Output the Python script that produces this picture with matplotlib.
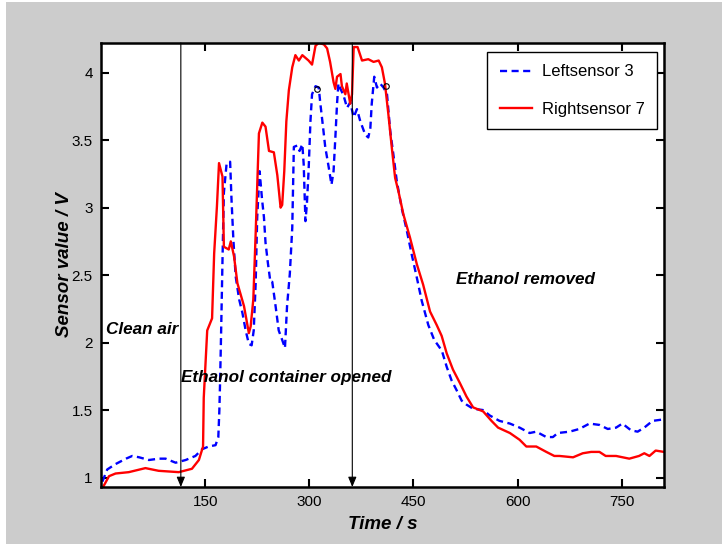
import numpy as np
import matplotlib
matplotlib.use('Agg')
import matplotlib.pyplot as plt
from matplotlib.patches import Rectangle

plt.rcParams['font.family'] = ['Liberation Sans', 'DejaVu Sans']

# Rightsensor 7 (red, solid): time [s], value [V]
red_t = [3, 11.5, 21, 40, 64, 83, 112, 131, 141, 147, 148, 153, 160, 163, 167, 170, 175, 177,
         184, 187, 191.6, 196.5, 206, 213, 215.6, 219.4, 222.8, 227.5, 232.4, 237, 242, 249,
         254, 258.7, 261, 264, 267, 270.6, 275.5, 280, 285, 290, 294.5, 299, 304, 309, 313.6,
         321, 325.7, 330, 335, 337.6, 340, 345, 347, 352, 354, 359, 361.6, 364, 369.6, 376,
         385, 392.6, 400, 404.6, 409, 414, 419, 423.7, 428.5, 435.6, 445, 455, 464, 474,
         483.6, 490.7, 498, 507, 517, 526.5, 536, 550.5, 562.5, 572, 589, 603, 612.7, 627,
         641.5, 653, 660.5, 680, 694, 706, 718, 727, 742, 761, 775, 782.6, 790, 799, 811]
red_v = [0.93, 1.01, 1.03, 1.04, 1.07, 1.05, 1.04, 1.065, 1.13, 1.23, 1.59, 2.09, 2.18, 2.66,
         3.01, 3.33, 3.23, 2.71, 2.69, 2.75, 2.64, 2.44, 2.27, 2.07, 2.12, 2.32, 2.81, 3.55,
         3.63, 3.60, 3.42, 3.41, 3.24, 3.00, 3.02, 3.27, 3.64, 3.87, 4.04, 4.13, 4.09, 4.13,
         4.11, 4.09, 4.06, 4.20, 4.22, 4.21, 4.18, 4.08, 3.93, 3.88, 3.97, 3.99, 3.90, 3.84,
         3.92, 3.77, 3.84, 4.19, 4.19, 4.09, 4.10, 4.08, 4.09, 4.04, 3.92, 3.69, 3.44, 3.22,
         3.12, 2.95, 2.78, 2.58, 2.43, 2.23, 2.13, 2.05, 1.92, 1.80, 1.70, 1.60, 1.52, 1.49,
         1.42, 1.37, 1.33, 1.28, 1.23, 1.23, 1.19, 1.16, 1.16, 1.15, 1.18, 1.19, 1.19, 1.16,
         1.16, 1.14, 1.16, 1.18, 1.16, 1.20, 1.19]

# Leftsensor 3 (blue, dashed)
blue_t = [2, 9, 21, 36, 45, 55, 69, 83.5, 93, 107.5, 122, 136, 145.7, 155, 165, 169, 170.5,
          171.5, 173, 175, 177, 181, 186, 188, 190.7, 194, 199, 203.7, 208.4, 213, 217, 220,
          222.8, 225, 228.5, 232, 234.7, 237, 240.4, 244, 246.7, 251.5, 256, 261, 265, 268,
          272, 275.5, 277.8, 282.6, 286, 290, 292, 294.5, 296.5, 299, 301.7, 304, 309, 313.6,
          316, 320, 323, 328, 332, 335, 337.6, 340, 342, 345, 349.5, 354.4, 359, 364, 368.7,
          373.5, 380.7, 385, 388, 390, 393.6, 397.5, 402, 407, 412, 416.6, 421, 426, 433,
          440.5, 447.7, 455, 462, 471.5, 480, 491, 498, 505, 512, 519.5, 526.6, 536, 550.5,
          560, 574, 589, 603, 617.5, 627, 641.5, 651, 658, 675, 689, 703.6, 718, 730, 742,
          751, 763.5, 773, 782.6, 794.5, 809]
blue_v = [0.97, 1.06, 1.10, 1.14, 1.16, 1.15, 1.13, 1.14, 1.14, 1.11, 1.13, 1.16, 1.21, 1.23,
          1.24, 1.30, 1.50, 1.70, 2.07, 2.61, 3.11, 3.33, 3.34, 3.06, 2.76, 2.49, 2.32, 2.22,
          2.09, 1.99, 1.98, 2.09, 2.44, 2.93, 3.27, 3.06, 2.93, 2.74, 2.59, 2.45, 2.45, 2.27,
          2.09, 2.02, 1.96, 2.27, 2.51, 2.85, 3.45, 3.46, 3.42, 3.47, 3.32, 2.90, 3.02, 3.27,
          3.64, 3.84, 3.90, 3.89, 3.77, 3.59, 3.45, 3.30, 3.17, 3.27, 3.52, 3.77, 3.92, 3.88,
          3.83, 3.74, 3.78, 3.67, 3.73, 3.64, 3.54, 3.52, 3.59, 3.77, 3.97, 3.89, 3.92, 3.89,
          3.84, 3.57, 3.40, 3.20, 3.00, 2.83, 2.65, 2.48, 2.31, 2.13, 2.02, 1.94, 1.82, 1.72,
          1.65, 1.57, 1.54, 1.51, 1.50, 1.46, 1.42, 1.40, 1.37, 1.33, 1.34, 1.30, 1.30, 1.33,
          1.34, 1.36, 1.40, 1.39, 1.36, 1.37, 1.40, 1.35, 1.34, 1.37, 1.42, 1.43]

# small black circle marks on the blue curve
mark_t = [311, 411]
mark_v = [3.88, 3.90]

# event lines (time) and annotations
event_t = [115, 362]
notes = [(7.5, 2.10, 'Clean air'),
         (115, 1.745, 'Ethanol container opened'),
         (512, 2.47, 'Ethanol removed')]

xticks = [150, 300, 450, 600, 750]
yticks = [1, 1.5, 2, 2.5, 3, 3.5, 4]
ylo, yhi = 0.93, 4.22

fig = plt.figure(figsize=(7.22, 5.44), dpi=100, facecolor='#cccccc')
# light strip at left/top edge of the screenshot
fig.patches.append(Rectangle((0, 0), 6 / 722, 1, transform=fig.transFigure,
                             facecolor='white', edgecolor='none', zorder=-1))
fig.patches.append(Rectangle((0, 1 - 2 / 544), 1, 2 / 544, transform=fig.transFigure,
                             facecolor='white', edgecolor='none', zorder=-1))

ax = fig.add_axes([101 / 722, 1 - 487 / 544, 563 / 722, 444 / 544])
ax.set_facecolor('white')

ax.plot(blue_t, blue_v, color='#0000ff', lw=1.7, ls=(0, (3.0, 1.9)), label='Leftsensor 3')
ax.plot(red_t, red_v, color='#ff0000', lw=1.7, label='Rightsensor 7')
ax.plot(mark_t, mark_v, 'o', mfc='none', mec='black', ms=4, mew=0.8)

for t in event_t:
    ax.annotate('', xy=(t, ylo), xytext=(t, yhi),
                arrowprops=dict(arrowstyle='-|>,head_length=0.6,head_width=0.25',
                                color='black', lw=0.8, shrinkA=0, shrinkB=0))

for t, v, s in notes:
    ax.text(t, v, s, fontsize=12.3, fontweight='bold', fontstyle='italic',
            va='center', ha='left')

ax.set_xlim(0, 811)
ax.set_ylim(ylo, yhi)
ax.set_xticks(xticks)
ax.set_yticks(yticks)
ax.set_yticklabels(['1', '1.5', '2', '2.5', '3', '3.5', '4'])
ax.tick_params(direction='in', length=6, width=1.5, top=True, right=True,
               labelsize=11, colors='black', pad=6)
for sp in ax.spines.values():
    sp.set_linewidth(1.8)

ax.set_xlabel('Time / s', fontsize=13.5, fontweight='bold', fontstyle='italic', labelpad=5)
ax.set_ylabel('Sensor value / V', fontsize=13.5, fontweight='bold', fontstyle='italic', labelpad=-1)

leg = ax.legend(loc='upper right', bbox_to_anchor=(0.9876, 0.98), borderaxespad=0,
                fontsize=12, handlelength=1.9, labelspacing=1.35, borderpad=0.75,
                handletextpad=0.6, fancybox=False, framealpha=1, edgecolor='black')
leg.get_frame().set_linewidth(1.0)

fig.savefig('out.png', dpi=100, facecolor=fig.get_facecolor())
